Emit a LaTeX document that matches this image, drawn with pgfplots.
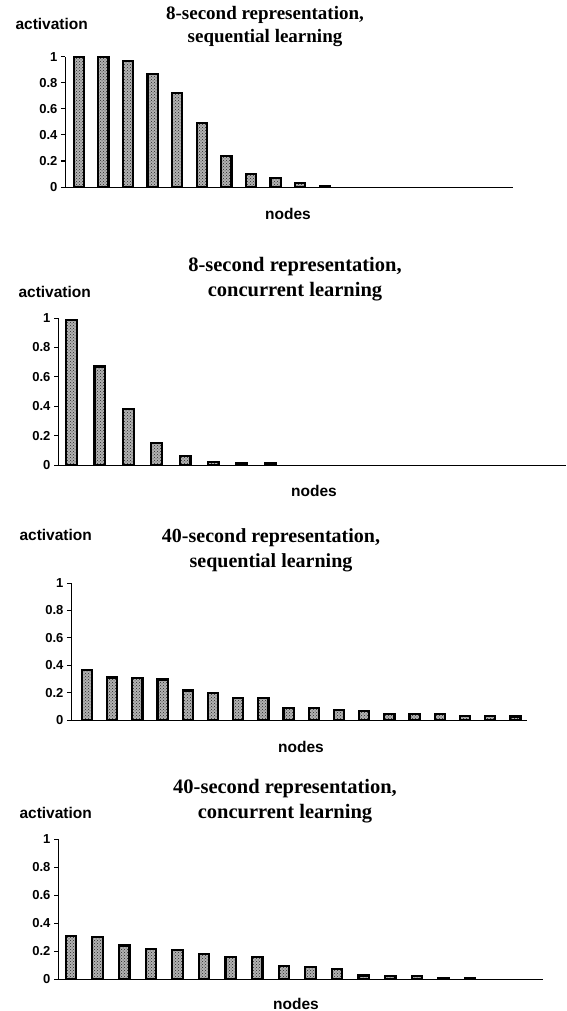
\documentclass[border=0pt]{standalone}
\usepackage{fontspec}
\setmainfont{Liberation Sans}
\newfontfamily\titlefont{Liberation Serif}
\usepackage{pgfplots}
\pgfplotsset{compat=1.18}
\usetikzlibrary{patterns}

% common look of the four panels
\pgfplotsset{
  nodepanel/.style={
    scale only axis,
    anchor=south west,
    axis lines*=left,
    axis line style={line width=1pt, black},
    ymin=0, ymax=1,
    ytick={0,0.2,0.4,0.6,0.8,1},
    xtick=\empty,
    tick align=outside,
    major tick length=4pt,
    ytick style={line width=1pt, black},
    yticklabel style={font=\bfseries\fontsize{13}{13}\selectfont},
    /pgf/number format/assume math mode=true,
    clip=false,
  },
  nodebar/.style={
    ybar, draw=black, line width=2.2pt, fill=black!30,
    postaction={pattern=crosshatch dots, pattern color=black!85},
  },
}

\newcommand{\lab}{\bfseries\fontsize{15.5}{15.5}\selectfont}

\begin{document}
\begin{tikzpicture}
\useasboundingbox (0pt,0pt) rectangle (566pt,-1011pt);

% ---------- panel 1: 8 s, sequential (nodes 12-18 are at 0)
\node[anchor=west, font=\lab] at (12pt,-24pt) {activation};
\node[align=center, font=\titlefont\bfseries\fontsize{19}{23}\selectfont] at (265pt,-27pt)
  {8-second representation,\\ sequential learning};
\node[font=\lab] at (288pt,-214pt) {nodes};
\begin{axis}[nodepanel, at={(65pt,-187pt)}, width=448pt, height=130pt,
  xmin=0.443, xmax=18.65]
\addplot[nodebar, bar width=10.2pt] coordinates {
  (1,1.00) (2,1.00) (3,0.97) (4,0.87) (5,0.72) (6,0.49) (7,0.24) (8,0.10) (9,0.07)
  (10,0.03) (11,0.01)
};
\end{axis}

% ---------- panel 2: 8 s, concurrent (nodes 9-18 are at 0)
\node[anchor=west, font=\lab] at (15pt,-292pt) {activation};
\node[align=center, font=\titlefont\bfseries\fontsize{20.5}{25}\selectfont] at (295pt,-279pt)
  {8-second representation,\\ concurrent learning};
\node[font=\lab] at (314pt,-491pt) {nodes};
\begin{axis}[nodepanel, at={(58pt,-465pt)}, width=508pt, height=147pt,
  xmin=0.525, xmax=18.41]
\addplot[nodebar, bar width=10.8pt] coordinates {
  (1,0.985) (2,0.67) (3,0.38) (4,0.15) (5,0.06) (6,0.02) (7,0.015) (8,0.015)
};
\end{axis}

% ---------- panel 3: 40 s, sequential
\node[anchor=west, font=\lab] at (16pt,-535pt) {activation};
\node[align=center, font=\titlefont\bfseries\fontsize{20}{25}\selectfont] at (271pt,-550pt)
  {40-second representation,\\ sequential learning};
\node[font=\lab] at (301pt,-747pt) {nodes};
\begin{axis}[nodepanel, at={(71pt,-720pt)}, width=456pt, height=137pt,
  xmin=0.365, xmax=18.46]
\addplot[nodebar, bar width=10.2pt] coordinates {
  (1,0.365) (2,0.31) (3,0.305) (4,0.295) (5,0.215) (6,0.20) (7,0.16) (8,0.16) (9,0.085)
  (10,0.085) (11,0.075) (12,0.065) (13,0.045) (14,0.045) (15,0.045) (16,0.03) (17,0.03) (18,0.025)
};
\end{axis}

% ---------- panel 4: 40 s, concurrent (nodes 17-18 are at 0)
\node[anchor=west, font=\lab] at (16pt,-813pt) {activation};
\node[align=center, font=\titlefont\bfseries\fontsize{20.5}{25}\selectfont] at (285pt,-801pt)
  {40-second representation,\\ concurrent learning};
\node[font=\lab] at (296pt,-1004pt) {nodes};
\begin{axis}[nodepanel, at={(58pt,-979pt)}, width=485pt, height=140pt,
  xmin=0.51, xmax=18.74]
\addplot[nodebar, bar width=10.5pt] coordinates {
  (1,0.31) (2,0.30) (3,0.24) (4,0.215) (5,0.205) (6,0.18) (7,0.155) (8,0.155) (9,0.095)
  (10,0.085) (11,0.07) (12,0.025) (13,0.02) (14,0.02) (15,0.01) (16,0.01)
};
\end{axis}
\end{tikzpicture}
\end{document}
